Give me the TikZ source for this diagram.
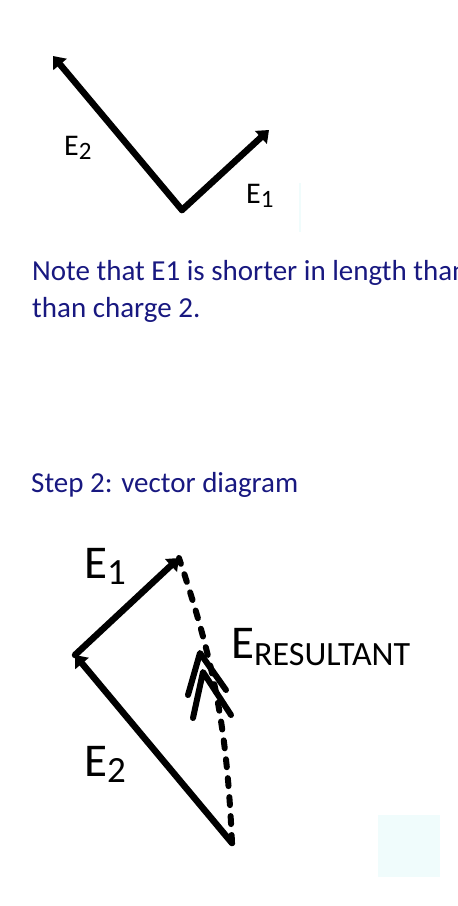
\documentclass[tikz,border=0pt]{standalone}
\usepackage{fontspec}
\setmainfont{Carlito}
\usetikzlibrary{arrows.meta}
\definecolor{notenavy}{RGB}{24,24,128}
\definecolor{paleaqua}{RGB}{240,252,252}

\tikzset{
  vec/.style={line width=6.5pt, line cap=round, line join=round, -{Triangle[length=11pt,width=17pt]}},
  resvec/.style={line width=6pt, line cap=round, dash pattern=on 8pt off 11pt},
  bigE/.style={anchor=base west, inner sep=0pt, font=\fontsize{30}{32}\selectfont},
  hugeE/.style={anchor=base west, inner sep=0pt, font=\fontsize{47}{50}\selectfont},
  note/.style={anchor=base west, inner sep=0pt, text=notenavy, font=\fontsize{29}{34}\selectfont}
}

\begin{document}
\begin{tikzpicture}[x=1pt,y=-1pt]
\useasboundingbox (0,0) rectangle (458,906);
\clip (0,0) rectangle (458,906);
% Step 1 sketch
\coordinate (v1) at (182,210);
\coordinate (e2tip) at (53,56);
\coordinate (e1tip) at (269,130);
\draw[vec] (v1) -- (e2tip);
\draw[vec] (v1) -- (e1tip);
\node[bigE] (e2a) at (64,155) {E\raisebox{-4pt}{\fontsize{25}{25}\selectfont 2}};
\node[bigE] (e1a) at (246,203) {E\raisebox{-4pt}{\fontsize{25}{25}\selectfont 1}};
\draw[paleaqua, line width=1.5pt] (300,183) -- (300,232);
% Note text
\node[note] (note1) at (32,280) {Note that E1 is shorter in length than};
\node[note] (note2) at (32,317) {than charge 2.};
\node[note] (step2) at (31,492) {Step 2: vector diagram};
% Step 2 vector diagram
\coordinate (v2) at (75,655);
\coordinate (e1top) at (179,558);
\coordinate (e2foot) at (232,843);
\draw[vec] (e2foot) -- (v2);
\draw[vec] (v2) -- (e1top);
\draw[resvec] (e2foot) to[bend right=8] (e1top);
% double chevron on the resultant
\draw[line width=6pt, line cap=round, line join=round] (188,695) -- (200,653) -- (226,690);
\draw[line width=6pt, line cap=round, line join=round] (193,718) -- (203,672) -- (231,715);
\node[hugeE] (e1b) at (84,578) {E\raisebox{-6pt}{\fontsize{37}{37}\selectfont 1}};
\node[hugeE] (e2b) at (84,776) {E\raisebox{-6pt}{\fontsize{37}{37}\selectfont 2}};
\node[hugeE] (eres) at (231,658) {E\raisebox{-7pt}{\fontsize{34}{34}\selectfont RESULTANT}};
% pale patch
\fill[paleaqua] (378,815) rectangle (440,877);
\end{tikzpicture}
\end{document}
